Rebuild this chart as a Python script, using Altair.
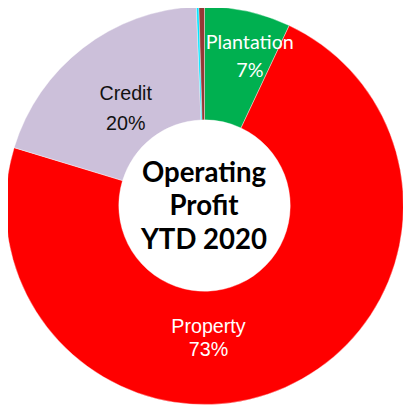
import altair as alt
import pandas as pd

categories = ["Plantation", "Property", "Credit", "Other A", "Other B"]
values = [7.0, 72.7, 19.65, 0.2, 0.45]
colors = ["#00B050", "#FF0000", "#CCC0DA", "#00E5FF", "#953735"]
order = [0, 1, 2, 3, 4]

label_texts = ["Plantation", "7%", "Credit", "20%", "Property", "73%"]
label_fonts = ["Lato", "Lato", "Liberation Sans", "Liberation Sans", "Liberation Sans", "Liberation Sans"]
label_colors = ["white", "white", "#111111", "#111111", "white", "white"]
center_lines = ["Operating", "Profit", "YTD 2020"]

df = pd.DataFrame({"category": categories, "value": values, "order": order})

# page origin of the chart is (3, 3)
OX, OY = 3, 3
CX, CY = 207.5 - OX, 205.5 - OY
R_OUT, R_IN = 202, 87

donut = alt.Chart(df).mark_arc(outerRadius=R_OUT, innerRadius=R_IN, stroke="white", strokeWidth=0.4).encode(
    theta=alt.Theta("value:Q", stack=True),
    color=alt.Color("category:N", scale=alt.Scale(domain=categories, range=colors), legend=None),
    order=alt.Order("order:Q"),
    x=alt.value(CX),
    y=alt.value(CY),
)

# label anchor positions (page px, baseline)
lab_x = [253.5, 253.5, 127.5, 127.5, 211.5, 211.5]
lab_y = [47, 75, 98, 129, 335, 358]
lab_df = pd.DataFrame({
    "text": label_texts,
    "font": label_fonts,
    "col": label_colors,
    "px": [v - OX for v in lab_x],
    "py": [v - OY for v in lab_y],
})

layers = [donut]
for font in ["Lato", "Liberation Sans"]:
    sub = lab_df[lab_df["font"] == font]
    layers.append(
        alt.Chart(sub).mark_text(font=font, fontSize=20, baseline="alphabetic", align="center").encode(
            x=alt.X("px:Q", scale=None),
            y=alt.Y("py:Q", scale=None),
            text="text:N",
            color=alt.Color("col:N", scale=None),
        )
    )

center_df = pd.DataFrame({
    "t": center_lines,
    "px": [207 - OX] * 3,
    "py": [v - OY for v in [182, 215.5, 250]],
})
center = alt.Chart(center_df).mark_text(
    font="Lato", fontSize=28, fontWeight="bold", baseline="alphabetic", align="center", color="black"
).encode(
    x=alt.X("px:Q", scale=None),
    y=alt.Y("py:Q", scale=None),
    text="t:N",
)
layers.append(center)

chart = alt.layer(*layers).properties(
    width=406, height=406,
    padding={"left": -5, "top": -5, "right": 0, "bottom": 0},
    autosize=alt.AutoSizeParams(type="none"),
).configure_view(stroke=None)

chart.save("out.html", embed_options={"renderer": "svg", "actions": False})
